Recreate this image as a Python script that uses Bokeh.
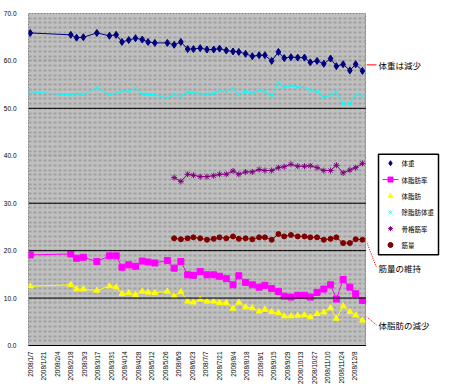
import math
from bokeh.plotting import figure
from bokeh.layouts import row
from bokeh.models import (Range1d, FixedTicker, SingleIntervalTicker, NumeralTickFormatter,
                          Span, ColumnDataSource, BoxAnnotation)
from bokeh.core.properties import value
from bokeh.embed import file_html
from bokeh.resources import INLINE

nan = float("nan")

# measurement day (days since 2008/1/7)
days = [0, 42, 48, 55, 69, 82, 89, 95, 102, 109, 116, 122, 129, 142, 149, 156, 163, 169, 176, 183,
        190, 196, 203, 210, 216, 223, 230, 237, 243, 250, 257, 263, 270, 277, 284, 290, 297, 304,
        311, 317, 324, 331, 337, 344]

weight = [65.9, 65.5, 64.9, 65.0, 65.9, 65.3, 65.5, 64.0, 64.4, 64.8, 64.5, 64.0, 63.8,
          63.8, 63.4, 64.0, 62.5, 62.5, 62.7, 62.4, 62.4, 62.6, 62.2, 62.0, 61.9, 61.5, 61.0,
          61.2, 61.2, 60.0, 61.9, 60.6, 60.8, 60.7, 60.7, 59.7, 60.0, 59.4, 60.5, 58.9, 59.3,
          58.0, 59.3, 57.9]
fat_pct = [19.1, 19.3, 18.4, 18.6, 17.7, 18.9, 18.9, 16.5, 17.0, 16.7, 17.8, 17.6, 17.4,
           17.9, 16.3, 17.7, 14.9, 14.8, 15.6, 14.9, 14.9, 14.6, 14.1, 12.8, 14.7, 13.3, 12.8,
           12.3, 12.7, 12.0, 11.4, 10.4, 10.2, 10.6, 10.6, 10.2, 11.2, 11.9, 12.8, 9.8, 13.9,
           12.3, 10.9, 9.5]
fat_mass = [12.5, 12.8, 11.9, 11.9, 11.6, 12.5, 12.3, 10.9, 11.1, 10.7, 11.4, 11.2, 11.1,
            11.4, 10.4, 11.3, 9.3, 9.1, 9.7, 9.3, 9.3, 9.0, 9.0, 7.8, 9.1, 8.1, 7.9, 7.2, 7.6,
            7.1, 6.9, 6.2, 6.2, 6.3, 6.4, 6.0, 6.7, 7.0, 7.9, 5.7, 8.3, 7.1, 6.4, 5.3]
lean_mass = [53.5, 52.8, 53.1, 52.9, 54.3, 52.9, 53.2, 53.7, 53.6, 54.2, 53.0, 52.9, 52.9,
             52.1, 52.9, 52.6, 53.4, 53.3, 53.1, 53.0, 53.2, 53.7, 53.5, 54.2, 52.9, 53.6, 53.2,
             53.8, 53.5, 52.6, 55.4, 54.5, 54.8, 54.5, 54.4, 53.8, 53.5, 52.4, 52.8, 53.4, 51.0,
             51.0, 52.9, 52.6]
muscle_pct = [nan] * 14 + [35.4, 34.6, 36.1, 35.9, 35.6, 35.6, 35.8, 36.1, 36.1, 36.8, 36.1,
                           36.6, 36.6, 37.1, 36.9, 36.9, 37.5, 37.7, 38.2, 37.8, 37.8, 37.9,
                           37.5, 36.9, 36.9, 38.0, 36.4, 37.0, 37.5, 38.4]
muscle_mass = [nan] * 14 + [22.6, 22.4, 22.6, 22.8, 22.6, 22.3, 22.5, 22.8, 22.6, 23.0, 22.5,
                            22.6, 22.4, 22.8, 22.8, 22.3, 23.5, 23.0, 23.3, 23.0, 23.0, 22.8,
                            22.8, 22.3, 22.5, 22.8, 21.6, 21.6, 22.4, 22.3]

series_names = ["体重", "体脂肪率", "体脂肪", "除脂肪体重", "骨格筋率", "筋量"]
series_values = [weight, fat_pct, fat_mass, lean_mass, muscle_pct, muscle_mass]
series_colors = ["#000080", "#FF00FF", "#FFFF00", "#00FFFF", "#800080", "#800000"]
series_markers = ["diamond", "square", "triangle", "x", "asterisk", "circle"]
series_sizes = [7, 6, 6, 5, 6, 5]

tick_labels = ["2008/1/7", "2008/1/21", "2008/2/4", "2008/2/18", "2008/3/3", "2008/3/17",
               "2008/3/31", "2008/4/14", "2008/4/28", "2008/5/12", "2008/5/26", "2008/6/9",
               "2008/6/23", "2008/7/7", "2008/7/21", "2008/8/4", "2008/8/18", "2008/9/1",
               "2008/9/15", "2008/9/29", "2008/10/13", "2008/10/27", "2008/11/10",
               "2008/11/24", "2008/12/8"]
tick_days = [14 * i for i in range(len(tick_labels))]

ref_lines = [10, 20, 30, 50]

notes = ["体重は減少", "筋量の維持", "体脂肪の減少"]
note_y = [59.0, 15.6, 3.3]
note_from_y = [59.0, 21.2, 5.1]
note_dash = ["solid", "1 1", "1 1"]

FONT_CJK = "Noto Sans CJK JP"
X0, X1 = -1.8, 348.2
Y0, Y1 = 0, 70
TOP, BOTTOM, FH = 13, 37, 332

p = figure(frame_width=338, frame_height=FH, x_range=Range1d(X0, X1), y_range=Range1d(Y0, Y1),
           output_backend="svg", toolbar_location=None,
           min_border_left=28, min_border_right=0, min_border_top=TOP, min_border_bottom=BOTTOM,
           background_fill_color="#C0C0C0", border_fill_color="white")
p.outline_line_color = "#808080"
p.outline_line_dash = "2 1"

p.xgrid.grid_line_color = None
p.ygrid.grid_line_color = "#A0A0A0"
p.ygrid.grid_line_width = 2
p.ygrid.grid_line_dash = "3 2"
p.ygrid.minor_grid_line_color = "#A0A0A0"
p.ygrid.minor_grid_line_width = 2
p.ygrid.minor_grid_line_dash = "3 2"

p.yaxis.ticker = SingleIntervalTicker(interval=10, num_minor_ticks=10)
p.yaxis.formatter = NumeralTickFormatter(format="0.0")
p.yaxis.axis_line_color = None
p.yaxis.major_tick_line_color = None
p.yaxis.minor_tick_line_color = None
p.yaxis.major_tick_out = 0
p.yaxis.major_label_standoff = 8
p.yaxis.major_label_text_font = "Liberation Sans"
p.yaxis.major_label_text_font_size = "6.5px"
p.yaxis.major_label_text_color = "black"

p.xaxis.ticker = FixedTicker(ticks=tick_days)
p.xaxis.major_label_overrides = {d: lab for d, lab in zip(tick_days, tick_labels)}
p.xaxis.major_label_orientation = math.pi / 2
p.xaxis.axis_line_color = "black"
p.xaxis.major_tick_line_color = None
p.xaxis.minor_tick_line_color = None
p.xaxis.major_tick_out = 0
p.xaxis.major_label_standoff = 6
p.xaxis.major_label_text_font = "Liberation Sans"
p.xaxis.major_label_text_font_size = "6.5px"
p.xaxis.major_label_text_color = "black"

for v in ref_lines:
    p.add_layout(Span(location=v, dimension="width", line_color="black", line_width=1))

for vals, col, mk, sz in zip(series_values, series_colors, series_markers, series_sizes):
    src = ColumnDataSource(dict(x=days, y=vals))
    p.line("x", "y", source=src, line_color=col, line_width=1)
    p.scatter("x", "y", source=src, marker=mk, size=sz, fill_color=col, line_color=col)

# side panel for legend and callouts: x in pixels, y on the same scale as the main plot
SIDE_W = 76
q = figure(width=SIDE_W, height=TOP + FH + BOTTOM, x_range=Range1d(0, SIDE_W), y_range=Range1d(Y0, Y1),
           output_backend="svg", toolbar_location=None,
           min_border_left=0, min_border_right=0, min_border_top=TOP, min_border_bottom=BOTTOM,
           background_fill_color="white", border_fill_color="white")
q.axis.visible = False
q.grid.visible = False
q.outline_line_color = None

def px_to_y(px_from_top):
    return Y1 - px_from_top * (Y1 - Y0) / FH

# legend box (pixel layout inside the side panel)
LEG_L, LEG_R, LEG_T, LEG_B = 12, 72, 143, 245
ROW0, PITCH = 152, 16.6
MK_X, LINE_L, LINE_R, TXT_X = 24, 16, 32, 35
q.add_layout(BoxAnnotation(left=LEG_L, right=LEG_R, top=px_to_y(LEG_T), bottom=px_to_y(LEG_B),
                           fill_alpha=0, line_color="black", line_alpha=1, line_width=1.5))
row_y = [px_to_y(ROW0 + i * PITCH) for i in range(len(series_names))]
for name, col, mk, yc in zip(series_names, series_colors, series_markers, row_y):
    if name == "体脂肪率":
        q.segment(x0=[LINE_L], y0=[yc], x1=[LINE_R], y1=[yc], line_color=col, line_width=1)
    q.scatter(x=[MK_X], y=[yc], marker=mk, size=5, fill_color=col, line_color=col)
q.text(x=[TXT_X] * len(series_names), y=row_y, text=series_names, text_baseline="middle",
       text_font=value(FONT_CJK), text_font_size="6.5px", text_color="black")

for ty, fy, dash in zip(note_y, note_from_y, note_dash):
    q.segment(x0=[0], y0=[fy], x1=[10], y1=[ty], line_color="#FF0000", line_width=1, line_dash=dash)
q.text(x=[12] * len(notes), y=note_y, text=notes, text_baseline="middle",
       text_font=value(FONT_CJK), text_font_size="8.5px", text_color="black")

layout = row(p, q, spacing=0)
open("out.html", "w").write(file_html(layout, INLINE))
